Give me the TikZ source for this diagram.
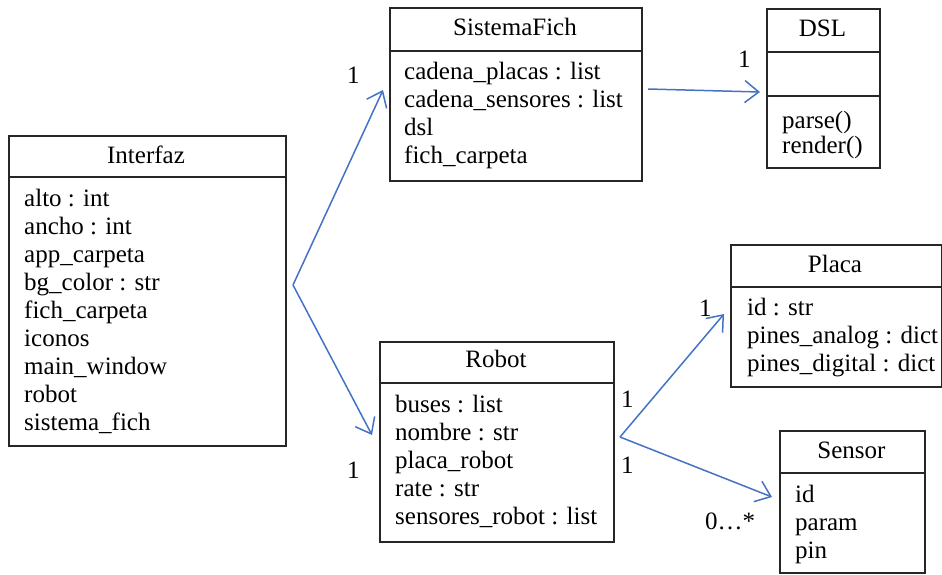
\documentclass[tikz,border=0pt]{standalone}
\usepackage{fontspec}
\setmainfont{Liberation Serif}
\usetikzlibrary{arrows.meta,calc}
\definecolor{assocblue}{HTML}{4472C4}
\definecolor{boxgray}{HTML}{262626}
\tikzset{
  classbox/.style={draw=boxgray, line width=1.8pt, inner sep=0pt, anchor=north west},
  divider/.style={draw=boxgray, line width=1.8pt},
  attr/.style={anchor=base west, inner sep=0pt, font=\fontsize{25}{28}\selectfont},
  ctitle/.style={anchor=base, inner sep=0pt, font=\fontsize{25}{28}\selectfont},
  mult/.style={anchor=base west, inner sep=0pt, font=\fontsize{25}{28}\selectfont},
  assoc/.style={draw=assocblue, line width=1.5pt, -{Straight Barb[length=14pt,width=22pt,line width=1.5pt]}},
}
\begin{document}
\begin{tikzpicture}[x=1pt,y=-1pt]
\useasboundingbox (0,0) rectangle (942,574);

% ---------- Interfaz ----------
\node[classbox, minimum width=277pt, minimum height=310pt] (interfaz) at (8,135) {};
\draw[divider] (interfaz.west |- 0,177) -- (interfaz.east |- 0,177);
\node[ctitle] (interfazT) at (146,163) {Interfaz};
\node[attr] (i1) at (24,206) {alto : int};
\node[attr] (i2) at (24,234) {ancho : int};
\node[attr] (i3) at (24,262) {app\_carpeta};
\node[attr] (i4) at (24,290) {bg\_color : str};
\node[attr] (i5) at (24,318) {fich\_carpeta};
\node[attr] (i6) at (24,346) {iconos};
\node[attr] (i7) at (24,374) {main\_window};
\node[attr] (i8) at (24,402) {robot};
\node[attr] (i9) at (24,430) {sistema\_fich};

% ---------- SistemaFich ----------
\node[classbox, minimum width=252pt, minimum height=173pt] (sf) at (389,7) {};
\draw[divider] (sf.west |- 0,51) -- (sf.east |- 0,51);
\node[ctitle] (sfT) at (515,35) {SistemaFich};
\node[attr] (s1) at (404,79) {cadena\_placas : list};
\node[attr] (s2) at (404,107) {cadena\_sensores : list};
\node[attr] (s3) at (404,135) {dsl};
\node[attr] (s4) at (404,163) {fich\_carpeta};

% ---------- DSL ----------
\node[classbox, minimum width=113pt, minimum height=159pt] (dsl) at (766,8) {};
\draw[divider] (dsl.west |- 0,52) -- (dsl.east |- 0,52);
\draw[divider] (dsl.west |- 0,96) -- (dsl.east |- 0,96);
\node[ctitle] (dslT) at (822.5,36) {DSL};
\node[attr] (d1) at (782,128) {parse()};
\node[attr] (d2) at (782,153) {render()};

% ---------- Robot ----------
\node[classbox, minimum width=234pt, minimum height=200pt] (robot) at (379,341) {};
\draw[divider] (robot.west |- 0,383) -- (robot.east |- 0,383);
\node[ctitle] (robotT) at (496,367) {Robot};
\node[attr] (r1) at (395,412) {buses : list};
\node[attr] (r2) at (395,440) {nombre : str};
\node[attr] (r3) at (395,468) {placa\_robot};
\node[attr] (r4) at (395,496) {rate : str};
\node[attr] (r5) at (395,524) {sensores\_robot : list};

% ---------- Placa ----------
\node[classbox, minimum width=211pt, minimum height=142pt] (placa) at (730,244) {};
\draw[divider] (placa.west |- 0,287) -- (placa.east |- 0,287);
\node[ctitle] (placaT) at (835,272) {Placa};
\node[attr] (p1) at (747,315) {id : str};
\node[attr] (p2) at (747,343) {pines\_analog : dict};
\node[attr] (p3) at (747,371) {pines\_digital : dict};

% ---------- Sensor ----------
\node[classbox, minimum width=145pt, minimum height=142pt] (sensor) at (779,430) {};
\draw[divider] (sensor.west |- 0,473) -- (sensor.east |- 0,473);
\node[ctitle] (sensorT) at (851.5,458) {Sensor};
\node[attr] (e1) at (795,502) {id};
\node[attr] (e2) at (795,530) {param};
\node[attr] (e3) at (795,558) {pin};

% ---------- connectors ----------
\coordinate (ia) at (293,285);
\coordinate (sftip) at (383,90);
\coordinate (rotip) at (372,435);
\coordinate (sfout) at (648,89);
\coordinate (dsltip) at (760,92);
\coordinate (ra) at (620,437);
\coordinate (platip) at (724,314);
\coordinate (sentip) at (772,497);

\draw[assoc] (ia) -- (sftip);
\draw[assoc] (ia) -- (rotip);
\draw[assoc] (sfout) -- (dsltip);
\draw[assoc] (ra) -- (platip);
\draw[assoc] (ra) -- (sentip);

% ---------- multiplicities ----------
\node[mult] (m1) at (347,83) {1};
\node[mult] (m2) at (347,478) {1};
\node[mult] (m3) at (738,67) {1};
\node[mult] (m4) at (621,407) {1};
\node[mult] (m5) at (621,473) {1};
\node[mult] (m6) at (699,316) {1};
\node[mult] (m7) at (705,529) {0…*};
\end{tikzpicture}
\end{document}
